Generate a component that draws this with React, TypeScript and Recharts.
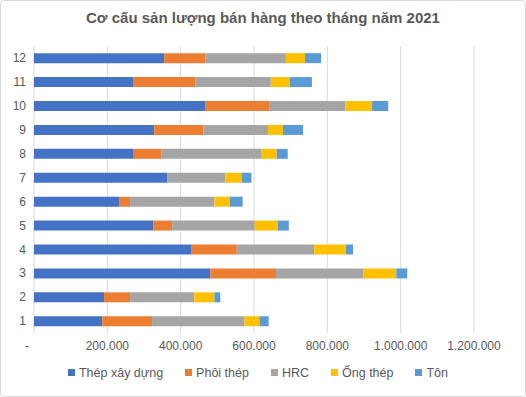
import { BarChart, Bar, XAxis, YAxis, CartesianGrid, Legend } from 'recharts';

const months = ['1', '2', '3', '4', '5', '6', '7', '8', '9', '10', '11', '12'];
const thepXayDung = [186000, 191000, 481000, 430000, 325000, 232000, 363000, 270000, 328000, 468000, 270000, 355000];
const phoiThep = [136000, 71000, 179000, 123000, 52000, 30000, 0, 77000, 134000, 175000, 170000, 113000];
const hrc = [252000, 175000, 239000, 211000, 225000, 230000, 159000, 274000, 176000, 206000, 206000, 219000];
const ongThep = [41000, 55000, 89000, 87000, 63000, 42000, 44000, 41000, 41000, 73000, 52000, 52000];
const ton = [25000, 16000, 30000, 19000, 30000, 35000, 27000, 30000, 55000, 44000, 60000, 44000];
const xTicks = [0, 200000, 400000, 600000, 800000, 1000000, 1200000];

const series = [
  { key: 'thepXayDung', name: 'Thép xây dựng', color: '#4472C4' },
  { key: 'phoiThep', name: 'Phôi thép', color: '#ED7D31' },
  { key: 'hrc', name: 'HRC', color: '#A5A5A5' },
  { key: 'ongThep', name: 'Ống thép', color: '#FFC000' },
  { key: 'ton', name: 'Tôn', color: '#5B9BD5' },
];

const data = months.map((m, i) => ({
  month: m,
  thepXayDung: thepXayDung[i],
  phoiThep: phoiThep[i],
  hrc: hrc[i],
  ongThep: ongThep[i],
  ton: ton[i],
}));

const fmt = (v: number) => (v === 0 ? '-' : String(v).replace(/\B(?=(\d{3})+(?!\d))/g, '.'));

const XTick = (props: any) => {
  const { x, y, payload } = props;
  const v = payload.value;
  return (
    <text x={v === 0 ? x - 7 : x} y={y} dy="0.71em" textAnchor="middle" fill="#595959" fontSize={12}>
      {fmt(v)}
    </text>
  );
};

export default function App() {
  return (
    <div
      style={{
        position: 'absolute',
        left: 0,
        top: 0,
        width: 526,
        height: 397,
        boxSizing: 'border-box',
        border: '1px solid #d9d9d9',
        borderRadius: 4,
        background: '#fff',
        fontFamily: 'Arial, "Liberation Sans", sans-serif',
      }}
    >
      <div
        style={{
          position: 'absolute',
          top: 8,
          width: '100%',
          textAlign: 'center',
          fontSize: 15,
          fontWeight: 'bold',
          color: '#595959',
        }}
      >
        Cơ cấu sản lượng bán hàng theo tháng năm 2021
      </div>
      <BarChart
        width={524}
        height={395}
        data={data}
        layout="vertical"
        barCategoryGap="30%"
        margin={{ top: 45, right: 51, bottom: 9, left: -1 }}
        style={{ position: 'absolute', left: 0, top: 0 }}
      >
        <CartesianGrid horizontal={false} stroke="#d9d9d9" />
        <XAxis
          type="number"
          domain={[0, 1200000]}
          ticks={xTicks}
          axisLine={false}
          tickLine={false}
          tick={<XTick />}
          height={30}
          interval={0}
        />
        <YAxis
          type="category"
          dataKey="month"
          reversed
          width={34}
          axisLine={false}
          tickLine={false}
          tick={{ fill: '#595959', fontSize: 12 }}
        />
        <Legend
          verticalAlign="bottom"
          iconType="square"
          iconSize={7}
          height={24}
          wrapperStyle={{ paddingLeft: 26 }}
          itemSorter={(item: any) => series.findIndex((s) => s.name === item.value)}
          formatter={(value: string, _entry: any, index: number) => (
            <span style={{ color: '#595959', fontSize: 12.5, marginRight: index === series.length - 1 ? 0 : 12 }}>
              {value}
            </span>
          )}
        />
        {series.map((s) => (
          <Bar key={s.key} dataKey={s.key} name={s.name} stackId="a" fill={s.color} isAnimationActive={false} />
        ))}
      </BarChart>
    </div>
  );
}
